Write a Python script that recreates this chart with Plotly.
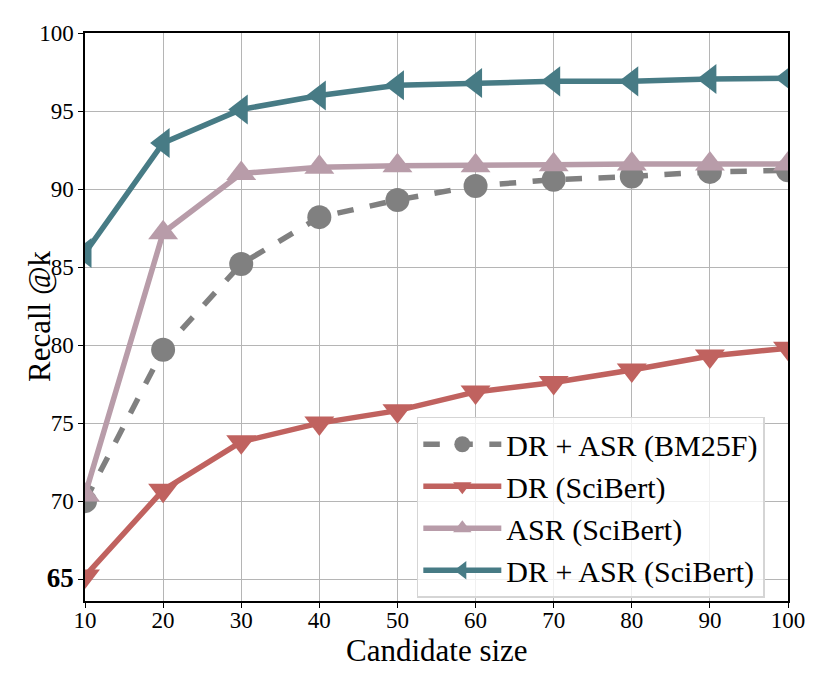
import plotly.graph_objects as go

sizes = [10, 20, 30, 40, 50, 60, 70, 80, 90, 100]

dr_asr_bm25f = [70.0, 79.7, 85.2, 88.2, 89.3, 90.2, 90.6, 90.8, 91.1, 91.2]
dr_scibert = [65.2, 70.7, 73.8, 75.0, 75.8, 77.0, 77.6, 78.4, 79.3, 79.8]
asr_scibert = [70.4, 87.2, 91.0, 91.4, 91.5, 91.5, 91.55, 91.6, 91.6, 91.6]
dr_asr_scibert = [85.9, 92.95, 95.1, 96.0, 96.65, 96.8, 96.9, 96.9, 97.05, 97.1]

y_ticks = [65, 70, 75, 80, 85, 90, 95, 100]
y_ticktext = ["<span style='font-size:27px'><b>65</b></span>", "70", "75", "80", "85", "90", "95", "100"]

series = [
    ("DR + ASR (BM25F)", dr_asr_bm25f, "#808080", "circle", "dash", 24),
    ("DR (SciBert)", dr_scibert, "#c0625f", "triangle-down", "solid", 26),
    ("ASR (SciBert)", asr_scibert, "#b89ca9", "triangle-up", "solid", 26),
    ("DR + ASR (SciBert)", dr_asr_scibert, "#477b85", "triangle-left", "solid", 26),
]

serif = "Liberation Serif"

fig = go.Figure()
for name, vals, color, symbol, dash, msize in series:
    fig.add_trace(go.Scatter(
        x=sizes, y=vals, name=name, mode="lines+markers",
        line=dict(color=color, width=5.5, dash=dash),
        marker=dict(color=color, symbol=symbol, size=msize),
    ))

axis_common = dict(
    showgrid=True, gridcolor="#b5b5b5", gridwidth=1.2,
    showline=True, linecolor="black", linewidth=1.5, mirror=True,
    ticks="outside", tickcolor="black", ticklen=5,
    tickfont=dict(family=serif, size=23, color="black"),
    zeroline=False,
)

fig.update_xaxes(range=[10, 100], tickvals=sizes, ticklabelstandoff=-7, **axis_common)
fig.update_yaxes(range=[63.6, 100], tickvals=y_ticks, ticktext=y_ticktext, **axis_common)

fig.update_layout(
    width=830, height=692,
    margin=dict(l=77, r=50, t=25, b=99),
    paper_bgcolor="white", plot_bgcolor="white",
    font=dict(family=serif, color="black"),
    legend=dict(
        x=0.472, y=0.165, xanchor="left", yanchor="middle",
        bgcolor="rgba(255,255,255,0.8)", bordercolor="#d5d5d5", borderwidth=1.5,
        font=dict(family=serif, size=30, color="black"),
        itemwidth=78, tracegroupgap=0,
    ),
    annotations=[
        dict(text="Candidate size", xref="paper", yref="paper", x=0.5, y=-0.0863,
             xanchor="center", yanchor="middle", showarrow=False,
             font=dict(family=serif, size=31, color="black")),
        dict(text="Recall @k", xref="paper", yref="paper", x=-0.0654, y=0.5,
             xanchor="center", yanchor="middle", textangle=-90, showarrow=False,
             font=dict(family=serif, size=31, color="black")),
    ],
)

fig.write_html("out.html")
